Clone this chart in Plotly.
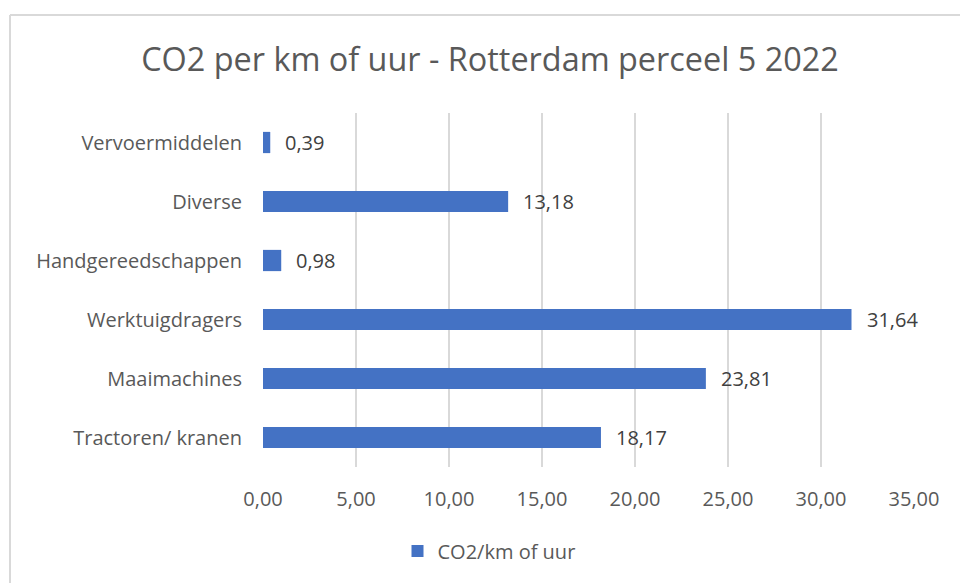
import plotly.graph_objects as go

categories = ["Tractoren/ kranen", "Maaimachines", "Werktuigdragers",
              "Handgereedschappen", "Diverse", "Vervoermiddelen"]
values = [18.17, 23.81, 31.64, 0.98, 13.18, 0.39]
series_name = "CO2/km of uur"
title_text = "CO2 per km of uur - Rotterdam perceel 5 2022"
x_ticks = [0, 5, 10, 15, 20, 25, 30, 35]

FONT = "Open Sans, sans-serif"
W, H = 960, 583
L, T = 263, 113
R = 960 - 914
B = 583 - 467
pw, ph = W - L - R, H - T - B

fig = go.Figure()
fig.add_trace(go.Bar(
    y=categories, x=values, orientation="h", name=series_name,
    marker=dict(color="#4472c4", line=dict(width=0)),
    width=0.36, showlegend=True,
))

for c, v in zip(categories, values):
    fig.add_annotation(x=v, y=c, text=f"{v:.2f}".replace(".", ","),
                       xanchor="left", xshift=13, showarrow=False,
                       font=dict(family=FONT, size=20, color="#404040"))

# chart-area frame: left and top edges (right/bottom fall outside the view)
bx = (10 - L) / pw
by = (T - 15) / ph + 1
fig.add_shape(type="line", xref="paper", yref="paper",
              x0=bx, x1=bx, y0=-(B + 30) / ph, y1=by,
              line=dict(color="#d9d9d9", width=2), layer="below")
fig.add_shape(type="line", xref="paper", yref="paper",
              x0=bx, x1=(W + 20 - L) / pw, y0=by, y1=by,
              line=dict(color="#d9d9d9", width=2), layer="below")

fig.update_layout(
    width=W, height=H,
    margin=dict(l=L, r=R, t=T, b=B, autoexpand=False),
    paper_bgcolor="white", plot_bgcolor="white",
    separators=",.",
    title=dict(text=title_text, x=490 / W, xanchor="center",
               y=1 - 60 / H, yanchor="middle",
               font=dict(family=FONT, size=32.4, color="#595959")),
    xaxis=dict(range=[0, 35], tickvals=x_ticks, tickformat=".2f",
               showgrid=True, gridcolor="#d9d9d9", gridwidth=1.5,
               zeroline=False, showline=False, ticks="",
               ticklabelstandoff=18,
               tickfont=dict(family=FONT, size=20, color="#595959")),
    yaxis=dict(showgrid=False, zeroline=False, showline=False, ticks="",
               ticklabelstandoff=20,
               tickfont=dict(family=FONT, size=20, color="#595959")),
    legend=dict(orientation="h", x=(0.5 * (413 + 575) - 5) / W,
                xref="container", xanchor="center",
                y=1 - 551 / H, yref="container", yanchor="middle",
                font=dict(family=FONT, size=20, color="#595959")),
    bargap=0.64,
)

fig.write_html(
    "out.html",
    config={"displayModeBar": False},
    post_script="document.body.style.margin='0';"
                "document.body.style.overflow='hidden';",
)
